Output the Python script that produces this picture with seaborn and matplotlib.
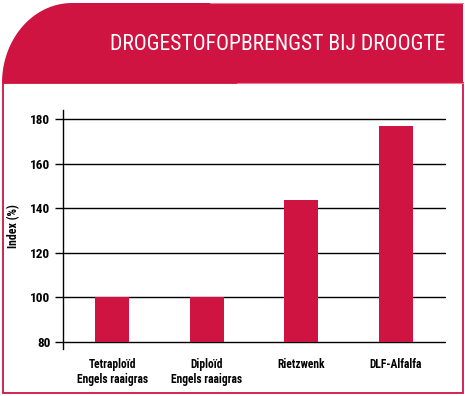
import numpy as np
import pandas as pd
import seaborn as sns
import matplotlib.pyplot as plt
from matplotlib.patches import Rectangle, PathPatch
from matplotlib.path import Path

# chart data
categories = ['Tetraploïd\nEngels raaigras', 'Diploïd\nEngels raaigras', 'Rietzwenk', 'DLF-Alfalfa']
values = [100, 100, 143.5, 177]
y_ticks = [80, 100, 120, 140, 160, 180]
title = 'DROGESTOFOPBRENGST BIJ DROOGTE'
y_label = 'Index (%)'

RED = '#cf1442'
W, H = 465, 396

sns.set_style('white')
plt.rcParams['font.family'] = ['Roboto Condensed', 'DejaVu Sans']
plt.rcParams['text.color'] = 'black'

fig = plt.figure(figsize=(W / 100, H / 100), dpi=100)

# background layer in pixel coordinates
bg = fig.add_axes([0, 0, 1, 1], zorder=0)
bg.set_xlim(0, W)
bg.set_ylim(H, 0)
bg.axis('off')

# white box with red border
bg.add_patch(Rectangle((2.5, 83), 460, 310, facecolor='white', edgecolor=RED, lw=1.3))

# header band with rounded top-left corner
rx, ry = 70, 80
theta = np.linspace(np.pi, 1.5 * np.pi, 40)
arc = np.column_stack([2 + rx + rx * np.cos(theta), 83 + ry * np.sin(theta)])
verts = np.vstack([[[2, 83]], arc, [[463, 3], [463, 83], [2, 83]]])
bg.add_patch(PathPatch(Path(verts), facecolor=RED, edgecolor='none'))
bg.plot([210, 463], [3, 3], color='#e87a96', lw=0.8)
bg.plot([237, 463], [82.5, 82.5], color='#e87a96', lw=0.8)

bg.text(445, 44, title, color='white', fontsize=15.6, ha='right', va='center')

# bar chart
df = pd.DataFrame({'gewas': categories, 'index': values})
ax = fig.add_axes([63 / W, 1 - 342 / H, (445 - 63) / W, (342 - 110) / H], zorder=1)
ax.patch.set_alpha(0)
sns.barplot(data=df, x='gewas', y='index', color=RED, saturation=1, width=0.36,
            linewidth=0, ax=ax)

ax.set_ylim(80, 184)
ax.set_xlim(-0.52, 3.52)
ax.set_yticks(y_ticks)
ax.yaxis.grid(True, color='black', lw=1.0)
for gl in ax.get_ygridlines():
    gl.set_clip_on(False)
ax.set_axisbelow(True)
for s in ['top', 'right', 'bottom']:
    ax.spines[s].set_visible(False)
ax.spines['left'].set_color('black')
ax.spines['left'].set_linewidth(1.0)
ax.spines['left'].set_bounds(76.8, 184)
ax.tick_params(axis='y', left=True, length=6, width=1.0, color='black', pad=3,
               labelsize=9.5, labelcolor='black')
ax.tick_params(axis='x', bottom=False, pad=8, labelsize=8.3, labelcolor='black')
for lab in ax.get_yticklabels() + ax.get_xticklabels():
    lab.set_fontweight('bold')
ax.set_xlabel('')
ax.set_ylabel(y_label, fontsize=8.5, fontweight='bold', labelpad=7, color='black')

fig.savefig('out.png', dpi=100)
